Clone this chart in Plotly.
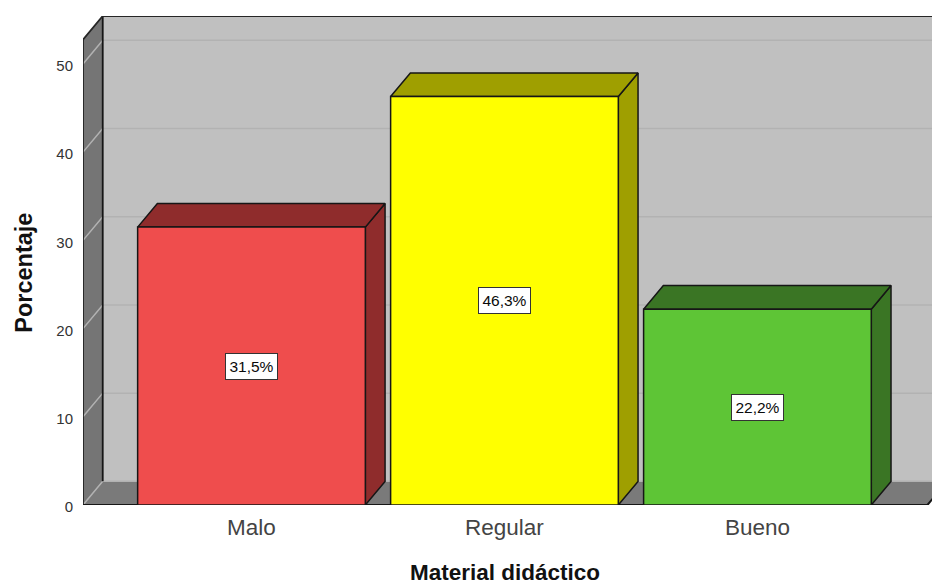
import plotly.graph_objects as go

# Datos del gráfico
categorias = ["Malo", "Regular", "Bueno"]
porcentajes = [31.5, 46.3, 22.2]
etiquetas = ["31,5%", "46,3%", "22,2%"]
marcas_y = [0, 10, 20, 30, 40, 50]

colores_frente = ["#ef4d4d", "#ffff00", "#5ec536"]
colores_lado = ["#8f2c2c", "#9f9f00", "#3a7524"]

# Extrusión simulada: profundidad expresada en unidades de cada eje
ANCHO_BARRA = 0.9
PROF_X = 0.078
PROF_Y = 2.68
X_MIN = -0.666
X_MAX = 2.69
X_FIN_SUELO = 2.672
Y_TECHO = 52.75
BORDE = "#161616"

fig = go.Figure()


def poligono(xs, ys, relleno, linea=BORDE, grosor=1.5):
    fig.add_trace(go.Scatter(
        x=xs, y=ys, mode="lines", fill="toself", fillcolor=relleno,
        line=dict(color=linea, width=grosor), hoverinfo="skip",
        showlegend=False, cliponaxis=False,
    ))


def trazo(xs, ys, color, grosor=1.2):
    fig.add_trace(go.Scatter(
        x=xs, y=ys, mode="lines", line=dict(color=color, width=grosor),
        hoverinfo="skip", showlegend=False, cliponaxis=False,
    ))


# Pared del fondo, pared izquierda y suelo
atras_x = X_MIN + PROF_X
poligono([atras_x, X_FIN_SUELO + PROF_X, X_FIN_SUELO + PROF_X, atras_x, atras_x],
         [PROF_Y, PROF_Y, Y_TECHO + PROF_Y, Y_TECHO + PROF_Y, PROF_Y],
         "#c0c0c0", linea="#c0c0c0", grosor=0)
poligono([X_MIN, atras_x, atras_x, X_MIN, X_MIN],
         [0, PROF_Y, Y_TECHO + PROF_Y, Y_TECHO, 0],
         "#757575", linea="#757575", grosor=0)
poligono([X_MIN, atras_x, X_FIN_SUELO + PROF_X, X_FIN_SUELO, X_MIN],
         [0, PROF_Y, PROF_Y, 0, 0],
         "#7a7a7a", linea="#7a7a7a", grosor=0)

# Líneas de cuadrícula sobre las paredes
for m in marcas_y:
    trazo([X_MIN, atras_x, X_FIN_SUELO + PROF_X],
          [m, m + PROF_Y, m + PROF_Y], "#b2b2b2", 1.5)

# Aristas de la caja
trazo([atras_x, atras_x], [PROF_Y, Y_TECHO + PROF_Y], "#161616", 1.8)
trazo([X_MIN, atras_x, X_FIN_SUELO + PROF_X],
      [Y_TECHO, Y_TECHO + PROF_Y, Y_TECHO + PROF_Y], "#262626", 1.8)
trazo([X_MIN, X_MIN], [0, Y_TECHO], "#161616", 1.6)
trazo([X_MIN, X_FIN_SUELO, X_FIN_SUELO + PROF_X], [0, 0, PROF_Y], "#161616", 2)

# Barras: cara lateral, cara superior y frente
for i, valor in enumerate(porcentajes):
    izq = i - ANCHO_BARRA / 2
    der = i + ANCHO_BARRA / 2
    poligono([der, der + PROF_X, der + PROF_X, der, der],
             [0, PROF_Y, valor + PROF_Y, valor, 0], colores_lado[i])
    poligono([izq, izq + PROF_X, der + PROF_X, der, izq],
             [valor, valor + PROF_Y, valor + PROF_Y, valor, valor], colores_lado[i])
    poligono([izq, der, der, izq, izq],
             [0, 0, valor, valor, 0], colores_frente[i])
    fig.add_annotation(
        x=i, y=valor / 2, text=etiquetas[i], showarrow=False,
        font=dict(family="Liberation Sans", size=15.5, color="#0a0a0a"),
        bgcolor="white", bordercolor="#333333", borderwidth=1,
        borderpad=0, width=51, height=25, align="center", valign="middle",
    )

# Títulos de los ejes
fig.add_annotation(
    text="<b>Material didáctico</b>", xref="paper", yref="paper",
    x=0.4974, y=-0.139, showarrow=False, xanchor="center", yanchor="middle",
    font=dict(family="Liberation Sans", size=22.5, color="#111111"),
    borderpad=0,
)
fig.add_annotation(
    text="<b>Porcentaje</b>", xref="paper", yref="paper",
    x=-0.0689, y=0.474, showarrow=False, textangle=-90,
    xanchor="center", yanchor="middle",
    font=dict(family="Liberation Sans", size=23.5, color="#111111"),
)

fig.update_layout(
    width=932, height=586,
    margin=dict(l=82.5, r=0, t=16, b=81, pad=0),
    paper_bgcolor="white", plot_bgcolor="white",
    showlegend=False,
    font=dict(family="Liberation Sans", color="#222222"),
    xaxis=dict(
        range=[X_MIN, X_MAX], tickmode="array", tickvals=[0, 1, 2],
        ticktext=categorias, showgrid=False, zeroline=False, showline=False,
        ticks="outside", ticklen=2, tickcolor="rgba(0,0,0,0)",
        tickfont=dict(size=22.5, color="#444444"),
    ),
    yaxis=dict(
        range=[0, Y_TECHO + PROF_Y], tickmode="array", tickvals=marcas_y,
        showgrid=False, zeroline=False, showline=False,
        ticks="outside", ticklen=6, tickcolor="rgba(0,0,0,0)",
        ticklabelshift=2,
        tickfont=dict(size=15, color="#333333"),
    ),
)

fig.write_html("out.html")
